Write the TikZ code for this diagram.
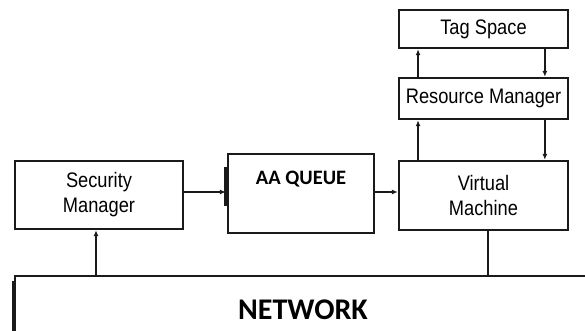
\documentclass[tikz,border=0pt]{standalone}
\usepackage{fontspec}
\setmainfont{Liberation Sans}[FakeStretch=0.87]
\newfontfamily\calibrifont{Carlito}
\usetikzlibrary{arrows.meta,calc,positioning}
\definecolor{ink}{HTML}{1A1A1A}
\tikzset{
  block/.style={
    draw=ink,
    line width=2.4pt,
    fill=white,
    align=center,
    font=\fontsize{21}{25}\selectfont,
    inner sep=0pt
  },
  boldtext/.style={font=\calibrifont\bfseries, text=black},
  link/.style={draw=ink, line width=1.6pt},
  arrow/.style={link, -{Latex[length=6pt, width=5pt]}},
  bar/.style={draw=ink, line width=3pt}
}
\begin{document}
\begin{tikzpicture}[x=1pt,y=1pt]
\useasboundingbox (0,0) rectangle (585,331);

% --- Left and middle blocks ---
\node[block, minimum width=168pt, minimum height=68pt] (secmgr) at (99,136) {Security\\Manager};
\node[block, minimum width=146pt, minimum height=79pt,
  label={[boldtext, font=\calibrifont\bfseries\fontsize{20.5}{24}\selectfont, anchor=center, yshift=-26pt]north:AA QUEUE}] (queue) at (301,137.5) {};

% --- Right column ---
\node[block, minimum width=169pt, minimum height=69pt] (vm) at (483.5,135.5) {Virtual\\Machine};
\node[block, minimum width=169pt, minimum height=41pt] (resmgr) at (483.5,232.5) {Resource Manager};
\node[block, minimum width=169pt, minimum height=38pt] (tag) at (483.5,302) {Tag Space};

% --- Network (runs off the page) ---
\node[block, minimum width=576pt, minimum height=68pt,
  font=\calibrifont\bfseries\fontsize{30}{32}\selectfont] (network) at (303,21) {NETWORK};

% Thick edge marks.
\draw[bar] ($(network.north west)+(0,-6)$) -- (network.south west);
\draw[bar] ($(queue.north west)+(-1,-14)$) -- ($(queue.north west)+(-1,-53)$);

% --- Connectors ---
\coordinate (vmup) at ($(vm.north west)!0.118!(vm.north east)$);
\coordinate (vmdown) at ($(vm.north west)!0.858!(vm.north east)$);

\draw[arrow] ($(network.north -| secmgr.south)+(-3,0)$) -- ($(secmgr.south)+(-3,0)$);
\draw[arrow] ($(secmgr.east)+(0,3)$) -- ($(secmgr.east -| queue.west)+(-1,3)$);
\draw[arrow] ($(queue.east)+(0,1.5)$) -- ($(queue.east -| vm.west)+(0,1.5)$);
\draw[link] ($(vm.south)+(4.5,0)$) -- ($(vm.south |- network.north)+(4.5,0)$);

\draw[arrow] (vmup) -- (vmup |- resmgr.south);
\draw[arrow] (vmdown |- resmgr.south) -- (vmdown);
\draw[arrow] (vmup |- resmgr.north) -- (vmup |- tag.south);
\draw[arrow] (vmdown |- tag.south) -- (vmdown |- resmgr.north);

\end{tikzpicture}
\end{document}
